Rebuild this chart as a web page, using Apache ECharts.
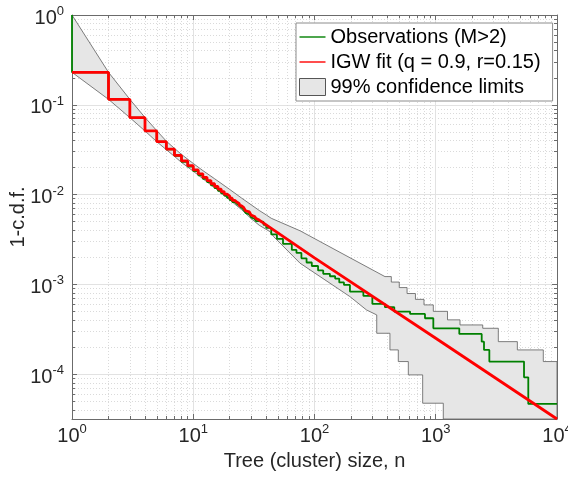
<!DOCTYPE html>
<html>
<head>
<meta charset="utf-8">
<script src="https://cdn.jsdelivr.net/npm/echarts@6/dist/echarts.min.js"></script>
<style>
html, body { margin: 0; padding: 0; background: #fff; }
#chart { width: 568px; height: 477px; }
</style>
</head>
<body>
<div id="chart"></div>
<script>
// IGW fit: one value per tree size while it is still a staircase (n = 1..34)
const fitStepN = [1, 2, 3, 4, 5, 6, 7, 8, 9, 10, 11, 12, 13, 14, 15, 16, 17, 18, 19, 20,
  21, 22, 23, 24, 25, 26, 27, 28, 29, 30, 31, 32, 33, 34]
const fitStepP = [0.230, 0.115, 0.0719, 0.0511, 0.0388, 0.0321, 0.0273, 0.0237, 0.0210, 0.0188,
  0.0170, 0.0155, 0.0143, 0.0132, 0.0123, 0.0115, 0.0108, 0.0101, 0.0096, 0.0091,
  0.0086, 0.0082, 0.0079, 0.0075, 0.0072, 0.0069, 0.0066, 0.0064, 0.0062, 0.0059,
  0.0057, 0.0056, 0.0054, 0.0052]
// IGW fit: smooth part
const fitTailN = [35, 100, 1000, 10000]
const fitTailP = [0.00506, 0.00197, 0.000251, 0.0000316]

// observations (M>2), value held from n until the next n
const obsN = [1, 2, 3, 4, 5, 6, 7, 8, 9, 10, 11, 12, 13, 14, 15, 16, 17, 18, 19, 20,
  21, 22, 23, 24, 25, 26, 27, 28, 29, 30, 31, 32, 33,
  35, 38, 40, 44, 49, 55, 65, 71, 78, 86, 95, 107, 118, 134, 148, 160, 175, 196, 253, 300,
  381, 455, 614, 815, 955, 1564, 2393, 2500, 2767, 5345, 5797]
const obsP = [0.230, 0.115, 0.0719, 0.0511, 0.0388, 0.0318, 0.0270, 0.0232, 0.0205, 0.0182,
  0.0164, 0.0150, 0.0138, 0.0127, 0.0118, 0.0110, 0.0103, 0.00975, 0.00920, 0.00870,
  0.00825, 0.00785, 0.00748, 0.00714, 0.00682, 0.00653, 0.00626, 0.00601, 0.00578, 0.00557,
  0.00538, 0.00520, 0.00505,
  0.00495, 0.00460, 0.00425, 0.00360, 0.00321, 0.00282, 0.00242, 0.00224, 0.00195, 0.00175,
  0.00160, 0.00143, 0.00131, 0.00123, 0.00116, 0.00105, 0.000985, 0.000830, 0.000743, 0.000605,
  0.000556, 0.000497, 0.000468, 0.000419, 0.000324, 0.000280, 0.000230, 0.000186, 0.000138,
  0.0000920, 0.0000466]

// 99% confidence limits (outline points)
const upperN = [1, 2, 3, 4, 5, 6, 7, 8, 10, 12, 15, 20, 25, 30, 35, 40, 44, 76, 200, 381,
  430, 430, 500, 500, 580, 580, 680, 680, 800, 800, 955, 955, 1250, 1250, 1585, 1585,
  2440, 2440, 3281, 3281, 4710, 4710, 7709, 7709, 10000]
const upperP = [1, 0.23, 0.115, 0.0722, 0.0515, 0.0393, 0.0327, 0.0280, 0.0222, 0.0185,
  0.0150, 0.0114, 0.00915, 0.00770, 0.00665, 0.00593, 0.00544, 0.00395, 0.00195, 0.00122,
  0.00122, 0.00106, 0.00106, 0.00092, 0.00092, 0.00079, 0.00079, 0.00068, 0.00068, 0.00059,
  0.00059, 0.00050, 0.00050, 0.000402, 0.000402, 0.000353,
  0.000353, 0.000324, 0.000324, 0.000230, 0.000230, 0.000186, 0.000186, 0.000138, 0.000138]
const lowerN = [1, 2, 3, 4, 5, 6, 7, 8, 10, 12, 15, 20, 25, 30, 35, 43, 46, 76, 196, 268,
  326, 326, 419, 419, 491, 491, 594, 594, 780, 780, 1154, 1154, 10000]
const lowerP = [0.23, 0.115, 0.0719, 0.0511, 0.0388, 0.0316, 0.0266, 0.0228, 0.0182, 0.0150,
  0.0119, 0.00871, 0.00680, 0.00540, 0.00455, 0.00386, 0.00340, 0.00172, 0.00073, 0.000519,
  0.000456, 0.000285, 0.000285, 0.000186, 0.000186, 0.000138, 0.000138, 0.000098, 0.000098,
  0.0000474, 0.0000474, 0.0000316, 0.0000316]

const xMin = 1
const xMax = 10000
const yMin = 0.0000316228
const yMax = 1

const fontFamily = '"Liberation Sans", Arial, Helvetica, sans-serif'
const axisColor = '#6b6b6b'

function toStairs (ns, ps, lastN) {
  const pts = []
  ns.forEach((n, i) => {
    const next = i < ns.length - 1 ? ns[i + 1] : lastN
    pts.push([n, ps[i]], [next, ps[i]])
  })
  return pts
}

const fitLine = toStairs(fitStepN, fitStepP, fitTailN[0])
  .concat(fitTailN.map((n, i) => [n, fitTailP[i]]))
const obsLine = [[1, 1]].concat(toStairs(obsN, obsP, xMax))

function powLabel (value) {
  const e = Math.log10(value)
  const r = Math.round(e)
  if (Math.abs(e - r) > 1e-6) return ''
  return '{b|10}{s|' + r + '}'
}
const richPow = {
  b: { fontSize: 20, lineHeight: 26, fontFamily: fontFamily, color: '#262626' },
  s: { fontSize: 13, lineHeight: 13, verticalAlign: 'top', fontFamily: fontFamily, color: '#262626' }
}

function logAxis (extra) {
  return Object.assign({
    type: 'log',
    logBase: 10,
    axisLine: { show: true, lineStyle: { color: axisColor, width: 1 } },
    axisTick: { show: true, inside: true, length: 5, lineStyle: { color: axisColor } },
    minorTick: { show: true, splitNumber: 9, length: 3, lineStyle: { color: axisColor } },
    splitLine: { show: false },
    minorSplitLine: { show: false },
    axisLabel: { show: false }
  }, extra)
}

const gridLine = { show: true, lineStyle: { color: '#e2e2e2', width: 1 } }
const minorGridLine = { show: true, lineStyle: { color: '#dadada', width: 1, type: [1, 2] } }
const linePath = 'path://M0,0H26V1.4H0Z'

const chart = echarts.init(document.getElementById('chart'))
chart.setOption({
  animation: false,
  backgroundColor: '#fff',
  grid: { left: 72, top: 15, right: 11, bottom: 58, containLabel: false, outerBoundsMode: 'none' },
  legend: {
    orient: 'vertical',
    left: 296,
    top: 23,
    padding: [3, 12, 3, 3],
    itemGap: 3,
    itemWidth: 26,
    itemHeight: 17,
    backgroundColor: '#fff',
    borderColor: '#8c8c8c',
    borderWidth: 1,
    borderRadius: 0,
    textStyle: { fontFamily: fontFamily, fontSize: 20, lineHeight: 22, color: '#000' },
    data: [
      { name: 'Observations (M>2)', icon: linePath, itemStyle: { color: '#008000', borderWidth: 0 } },
      { name: 'IGW fit (q = 0.9, r=0.15)', icon: linePath, itemStyle: { color: '#ff0000', borderWidth: 0 } },
      { name: '99% confidence limits', icon: 'rect', itemStyle: { color: '#e6e6e6', borderColor: '#555', borderWidth: 1 } }
    ]
  },
  xAxis: [
    logAxis({
      position: 'bottom',
      min: xMin,
      max: xMax,
      splitLine: gridLine,
      minorSplitLine: minorGridLine,
      axisLabel: { show: true, margin: 4, formatter: powLabel, rich: richPow },
      name: 'Tree (cluster) size, n',
      nameLocation: 'middle',
      nameGap: 32,
      nameMoveOverlap: false,
      nameTextStyle: { fontFamily: fontFamily, fontSize: 20, color: '#262626' }
    }),
    logAxis({ position: 'top', min: xMin, max: xMax })
  ],
  yAxis: [
    logAxis({
      position: 'left',
      min: yMin,
      max: yMax,
      splitLine: gridLine,
      minorSplitLine: minorGridLine,
      axisLabel: { show: true, margin: 8, padding: [6, 0, 0, 0], formatter: powLabel, rich: richPow },
      name: '1-c.d.f.',
      nameLocation: 'middle',
      nameGap: 44,
      nameMoveOverlap: false,
      nameTextStyle: { fontFamily: fontFamily, fontSize: 20, color: '#262626' }
    }),
    logAxis({ position: 'right', min: yMin, max: yMax })
  ],
  series: [
    {
      name: '99% confidence limits',
      type: 'custom',
      coordinateSystem: 'cartesian2d',
      clip: true,
      silent: true,
      itemStyle: { color: '#e6e6e6' },
      data: [[1, 1]],
      renderItem: (params, api) => {
        const pts = upperN.map((n, i) => api.coord([n, upperP[i]]))
          .concat(lowerN.map((n, i) => api.coord([n, lowerP[i]])).reverse())
        return {
          type: 'polygon',
          shape: { points: pts },
          style: { fill: '#e6e6e6', stroke: '#5e5e5e', lineWidth: 0.8 }
        }
      }
    },
    {
      name: 'Observations (M>2)',
      type: 'line',
      data: obsLine,
      showSymbol: false,
      symbol: 'none',
      silent: true,
      lineStyle: { color: '#008000', width: 1.8 },
      itemStyle: { color: '#008000' }
    },
    {
      name: 'IGW fit (q = 0.9, r=0.15)',
      type: 'line',
      data: fitLine,
      showSymbol: false,
      symbol: 'none',
      silent: true,
      lineStyle: { color: '#ff0000', width: 2.8 },
      itemStyle: { color: '#ff0000' }
    }
  ]
})
</script>
</body>
</html>
